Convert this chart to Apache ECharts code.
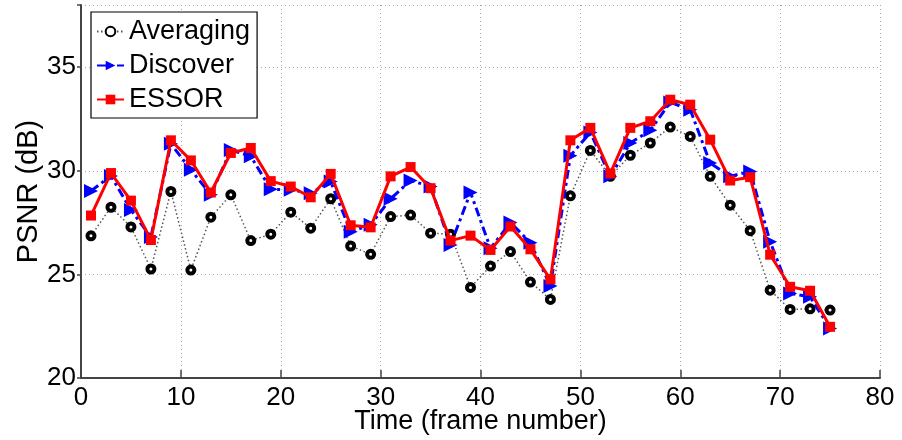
<!DOCTYPE html>
<html>
<head>
<meta charset="utf-8">
<script src="https://cdn.jsdelivr.net/npm/echarts@6/dist/echarts.min.js"></script>
<style>html,body{margin:0;padding:0;background:#fff}#c{width:902px;height:440px}</style>
</head>
<body>
<div id="c"></div>
<script>
const frames = [1,3,5,7,9,11,13,15,17,19,21,23,25,27,29,31,33,35,37,39,41,43,45,47,49,51,53,55,57,59,61,63,65,67,69,71,73,75];
const averaging = [26.86,28.24,27.29,25.26,29.0,25.21,27.76,28.84,26.63,26.94,28.0,27.23,28.65,26.37,25.97,27.79,27.86,26.99,26.94,24.37,25.40,26.1,24.63,23.79,28.79,30.98,29.73,30.75,31.34,32.11,31.66,29.73,28.34,27.11,24.24,23.31,23.34,23.28];
const discover = [29.03,29.75,28.11,26.8,31.3,30.05,28.84,31.0,30.7,29.11,29.08,28.92,29.48,27.06,27.39,28.65,29.53,29.24,26.42,28.95,26.26,27.5,26.53,24.44,30.73,31.85,29.73,31.34,31.95,33.3,32.95,30.37,29.73,29.97,26.58,24.08,23.92,22.39];
const essor = [27.84,29.89,28.56,26.66,31.47,30.5,28.95,30.86,31.1,29.5,29.24,28.72,29.85,27.37,27.27,29.73,30.18,29.16,26.63,26.87,26.18,27.31,26.21,24.76,31.47,32.07,29.87,32.07,32.39,33.43,33.19,31.5,29.53,29.69,25.95,24.40,24.21,22.47];
const xTicks = [0,10,20,30,40,50,60,70,80];
const yTicks = [20,25,30,35];

const pair = arr => frames.map((f,i)=>[f,arr[i]]);
const FONT = 'Liberation Sans, Arial, sans-serif';
const chart = echarts.init(document.getElementById('c'), null, {renderer:'canvas'});
chart.setOption({
  animation:false,
  backgroundColor:'#fff',
  grid:{left:81,right:22,top:5,bottom:62,containLabel:false,outerBoundsMode:'none'},
  legend:{
    orient:'vertical', left:91, top:12,
    backgroundColor:'#fff', borderColor:'#000', borderWidth:1.2,
    padding:[6,7,5,5], itemGap:7, itemWidth:27, itemHeight:12,
    textStyle:{fontFamily:FONT,fontSize:27,color:'#000'},
    data:['Averaging','Discover','ESSOR']
  },
  xAxis:{
    type:'value', min:xTicks[0], max:xTicks[xTicks.length-1], interval:10,
    name:'Time (frame number)', nameLocation:'middle', nameGap:30, nameMoveOverlap:false,
    nameTextStyle:{fontFamily:FONT,fontSize:27,color:'#000'},
    axisLine:{show:true,onZero:false,lineStyle:{color:'#444',width:2}},
    axisTick:{show:true,inside:true,length:8,lineStyle:{color:'#444',width:1.5}},
    axisLabel:{fontFamily:FONT,fontSize:26,color:'#000',margin:7},
    splitLine:{show:true,lineStyle:{color:'#aaa',type:[1,3],width:1}}
  },
  yAxis:{
    type:'value', min:yTicks[0], max:38, interval:5,
    name:'PSNR (dB)', nameLocation:'middle', nameGap:38, nameMoveOverlap:false,
    nameTextStyle:{fontFamily:FONT,fontSize:29,color:'#000'},
    axisLine:{show:true,onZero:false,lineStyle:{color:'#444',width:2}},
    axisTick:{show:true,inside:false,length:4,lineStyle:{color:'#444',width:1.5}},
    axisLabel:{fontFamily:FONT,fontSize:26,color:'#000',margin:5,
      formatter:v=> yTicks.indexOf(v)>=0 ? String(v) : ''},
    splitLine:{show:true,lineStyle:{color:'#aaa',type:[1,3],width:1}}
  },
  series:[
    {name:'Averaging',type:'line',data:pair(averaging),
     symbol:'circle',symbolSize:7,
     itemStyle:{color:'#fff',borderColor:'#000',borderWidth:4},
     lineStyle:{color:'#555',width:1.5,type:[1.5,2.5]},z:2},
    {name:'Discover',type:'line',data:pair(discover),
     symbol:'triangle',symbolSize:14,symbolRotate:-90,
     itemStyle:{color:'#0000ff'},
     lineStyle:{color:'#0000ff',width:3,type:[9,4,3,4]},z:3},
    {name:'ESSOR',type:'line',data:pair(essor),
     symbol:'rect',symbolSize:10,
     itemStyle:{color:'#ff0000'},
     lineStyle:{color:'#ff0000',width:3},z:4}
  ]
});
</script>
</body>
</html>
